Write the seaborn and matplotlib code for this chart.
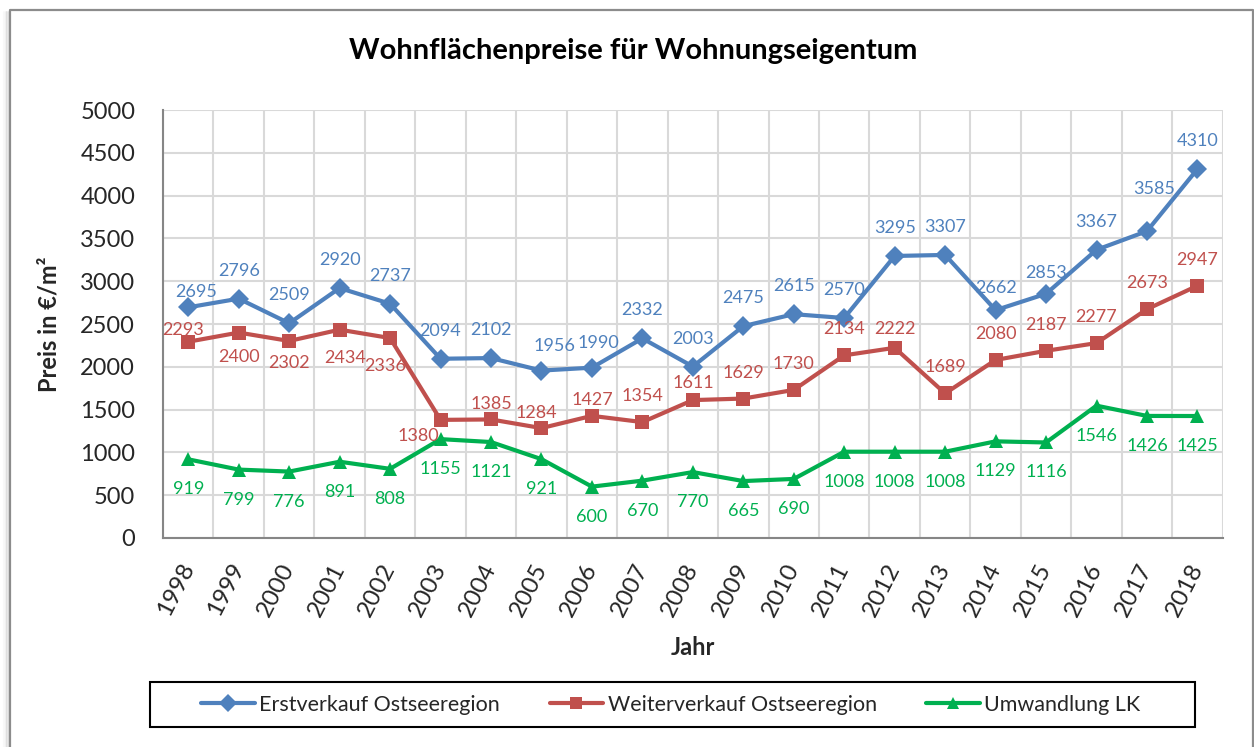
import numpy as np
import pandas as pd
import matplotlib
matplotlib.use("Agg")
import matplotlib.pyplot as plt
from matplotlib.patches import Rectangle
from matplotlib.lines import Line2D
import seaborn as sns

years = [str(y) for y in range(1998, 2019)]
erstverkauf = [2695, 2796, 2509, 2920, 2737, 2094, 2102, 1956, 1990, 2332, 2003,
               2475, 2615, 2570, 3295, 3307, 2662, 2853, 3367, 3585, 4310]
weiterverkauf = [2293, 2400, 2302, 2434, 2336, 1380, 1385, 1284, 1427, 1354, 1611,
                 1629, 1730, 2134, 2222, 1689, 2080, 2187, 2277, 2673, 2947]
umwandlung = [919, 799, 776, 891, 808, 1155, 1121, 921, 600, 670, 770,
              665, 690, 1008, 1008, 1008, 1129, 1116, 1546, 1426, 1425]
series_names = ["Erstverkauf Ostseeregion", "Weiterverkauf Ostseeregion", "Umwandlung LK"]

colors = {series_names[0]: "#4F81BD", series_names[1]: "#C0504D", series_names[2]: "#00B050"}
markers = {series_names[0]: "D", series_names[1]: "s", series_names[2]: "^"}

df = pd.DataFrame({
    "x": list(range(len(years))) * 3,
    "Preis": erstverkauf + weiterverkauf + umwandlung,
    "Serie": [series_names[0]] * 21 + [series_names[1]] * 21 + [series_names[2]] * 21,
})

sns.set_theme(style="white")
plt.rcParams["font.family"] = ["Lato", "DejaVu Sans"]

DPI = 100
fig = plt.figure(figsize=(12.54, 7.47), dpi=DPI)
ax = fig.add_axes([0.130, 0.2798, 0.845, 0.5729])

sns.lineplot(data=df, x="x", y="Preis", hue="Serie", style="Serie",
             palette=colors, markers=markers, dashes=False, linewidth=3.0,
             markersize=10, markeredgewidth=0, ax=ax, legend=False, sort=False)

ax.set_xlim(-0.5, len(years) - 0.5)
ax.set_ylim(0, 5000)
ax.set_yticks(np.arange(0, 5001, 500))
ax.set_xticks(range(len(years)))
ax.set_xticklabels(years, rotation=63, fontsize=17.5, ha="right", va="center",
                   rotation_mode="anchor")
ax.set_xticks(np.arange(-0.5, len(years), 1), minor=True)
ax.tick_params(axis="x", which="major", length=0, pad=19)
ax.tick_params(axis="x", which="minor", length=7, width=1.5, color="#868686")
ax.tick_params(axis="y", which="major", length=7, width=1.5, color="#868686",
               labelsize=17, pad=13)

ax.grid(False)
ax.yaxis.grid(True, color="#D9D9D9", linewidth=1.5)
ax.xaxis.grid(True, which="minor", color="#D9D9D9", linewidth=1.5)
for side in ["top", "right"]:
    ax.spines[side].set_visible(False)
for side in ["left", "bottom"]:
    ax.spines[side].set_color("#868686")
    ax.spines[side].set_linewidth(1.5)

ax.set_xlabel("Jahr", fontsize=17, fontweight="bold", labelpad=12)
ax.set_ylabel("Preis in €/m²", fontsize=17, fontweight="bold", labelpad=14)
fig.text(0.505, 0.932, "Wohnflächenpreise für Wohnungseigentum",
         ha="center", va="center", fontsize=21, fontweight="bold", color="black")

# label offsets in pixels (dx, dy); dy > 0 above the point
blue_off = {"1998": (8, 15), "2005": (13, 25), "2006": (6, 25), "2014": (0, 22),
            "2015": (0, 21), "2017": (7, 42)}
red_off = {"1998": (-5, 12), "1999": (0, -24), "2000": (0, -22), "2001": (6, -28),
           "2002": (-5, -28), "2004": (0, 15), "2005": (-5, 15), "2006": (0, 16),
           "2008": (0, 17), "2012": (0, 19)}
px = 72.0 / DPI


def put_label(text, x, y, off, color, ha="center"):
    ax.annotate(text, (x, y), xytext=(off[0] * px, off[1] * px),
                textcoords="offset points", ha=ha, va="center",
                fontsize=13, color=color)


for i, yr in enumerate(years):
    put_label(str(erstverkauf[i]), i, erstverkauf[i], blue_off.get(yr, (0, 28)),
              colors[series_names[0]])
    if yr == "2003":
        put_label(str(weiterverkauf[i]), i, weiterverkauf[i], (-1, -16),
                  colors[series_names[1]], ha="right")
    else:
        put_label(str(weiterverkauf[i]), i, weiterverkauf[i], red_off.get(yr, (0, 26)),
                  colors[series_names[1]])
    put_label(str(umwandlung[i]), i, umwandlung[i], (0, -30), colors[series_names[2]])

# legend: entries centred inside a framed box
handles = [Line2D([0], [0], color=colors[n], marker=markers[n], linewidth=3.0,
                  markersize=9, markeredgewidth=0) for n in series_names]
fig.legend(handles, series_names, loc="center", bbox_to_anchor=(0.535, 0.0562),
           ncol=3, fontsize=15.5, frameon=False, handlelength=2.5,
           handletextpad=0.2, columnspacing=2.3)
fig.patches.append(Rectangle((150 / 1254, 20 / 747), 1045 / 1254, 45 / 747,
                             transform=fig.transFigure, fill=False,
                             edgecolor="black", linewidth=1.5))

# chart area border with a soft shadow on the left
for k, a in enumerate([0.05, 0.1, 0.16, 0.24]):
    xx = (4 + k * 1.5) / 1254
    fig.add_artist(Line2D([xx, xx], [0, 1 - 12 / 747], transform=fig.transFigure,
                          color="#808080", alpha=a, linewidth=1.5))
bx0, bx1, by1 = 10 / 1254, 1252.5 / 1254, 1 - 9.5 / 747
fig.add_artist(Line2D([bx0, bx0, bx1, bx1], [0, by1, by1, 0],
                      transform=fig.transFigure, color="#8C8C8C", linewidth=1.6))

fig.savefig("out.png", dpi=DPI)
